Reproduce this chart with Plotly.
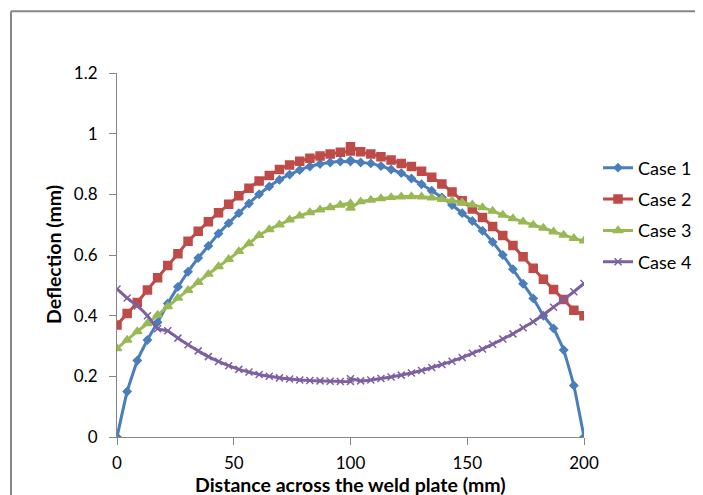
import plotly.graph_objects as go

# Distance across the weld plate (mm); 100 appears twice (two mesh halves)
distance = [0, 4.35, 8.70, 13.04, 17.39, 21.74, 26.09, 30.43, 34.78, 39.13,
            43.48, 47.83, 52.17, 56.52, 60.87, 65.22, 69.57, 73.91, 78.26, 82.61,
            86.96, 91.30, 95.65, 100, 100, 104.35, 108.70, 113.04, 117.39, 121.74,
            126.09, 130.43, 134.78, 139.13, 143.48, 147.83, 152.17, 156.52, 160.87,
            165.22, 169.57, 173.91, 178.26, 182.61, 186.96, 191.30, 195.65, 200]

case1 = [0, 0.15, 0.252, 0.32, 0.378, 0.44, 0.495, 0.545, 0.59, 0.63,
         0.671, 0.705, 0.738, 0.77, 0.80, 0.826, 0.848, 0.865, 0.88, 0.892,
         0.90, 0.905, 0.908, 0.908, 0.912, 0.905, 0.902, 0.893, 0.882, 0.87,
         0.852, 0.833, 0.812, 0.79, 0.765, 0.738, 0.712, 0.68, 0.643,
         0.60, 0.553, 0.505, 0.457, 0.40, 0.358, 0.287, 0.17, 0]

case2 = [0.369, 0.407, 0.443, 0.485, 0.525, 0.565, 0.604, 0.645, 0.678, 0.71,
         0.739, 0.767, 0.795, 0.82, 0.844, 0.862, 0.882, 0.897, 0.909, 0.919,
         0.926, 0.933, 0.939, 0.943, 0.957, 0.94, 0.933, 0.924, 0.913, 0.902,
         0.892, 0.876, 0.856, 0.834, 0.808, 0.779, 0.752, 0.724, 0.694,
         0.664, 0.631, 0.594, 0.556, 0.52, 0.486, 0.453, 0.418, 0.40]

case3 = [0.292, 0.32, 0.348, 0.374, 0.402, 0.43, 0.458, 0.484, 0.51, 0.537,
         0.562, 0.586, 0.612, 0.638, 0.665, 0.684, 0.70, 0.716, 0.729, 0.74,
         0.749, 0.757, 0.765, 0.77, 0.755, 0.776, 0.781, 0.786, 0.79, 0.792,
         0.793, 0.792, 0.789, 0.784, 0.779, 0.773, 0.766, 0.757, 0.745,
         0.732, 0.72, 0.71, 0.699, 0.689, 0.677, 0.666, 0.655, 0.647]

case4 = [0.488, 0.458, 0.432, 0.40, 0.357, 0.35, 0.326, 0.304, 0.284, 0.265,
         0.249, 0.235, 0.223, 0.214, 0.206, 0.20, 0.195, 0.191, 0.188, 0.186,
         0.185, 0.184, 0.183, 0.183, 0.192, 0.185, 0.188, 0.193, 0.198, 0.204,
         0.211, 0.219, 0.229, 0.239, 0.25, 0.262, 0.276, 0.29, 0.306,
         0.323, 0.34, 0.36, 0.38, 0.403, 0.428, 0.453, 0.479, 0.506]

series_names = ["Case 1", "Case 2", "Case 3", "Case 4"]
x_ticks = [0, 50, 100, 150, 200]
y_ticks = [0, 0.2, 0.4, 0.6, 0.8, 1.0, 1.2]
y_tick_labels = ["0", "0.2", "0.4", "0.6", "0.8", "1", "1.2"]

colors = ["#4A7EBB", "#BE4B48", "#98B954", "#7D60A0"]
symbols = ["diamond", "square", "triangle-up", "x-thin"]
msizes = [6, 8, 8, 7]

FONT = "Lato, 'Open Sans', 'DejaVu Sans', sans-serif"

fig = go.Figure()
for i, (name, vals) in enumerate(zip(series_names, [case1, case2, case3, case4])):
    fig.add_trace(go.Scatter(
        x=distance, y=vals, name=name, mode="lines+markers",
        line=dict(color=colors[i], width=3, shape="spline", smoothing=0.3),
        marker=dict(symbol=symbols[i], size=msizes[i], color=colors[i],
                    line=dict(color=colors[i], width=1.5)),
        legendgroup=name,
    ))

axis_common = dict(
    showgrid=False, zeroline=False, showline=True, linecolor="#868686",
    linewidth=1, ticks="outside", ticklen=7, tickcolor="#868686",
    tickfont=dict(family=FONT, size=17, color="#000000"),
)

border = dict(color="#868686", width=2)

# page body adds an 8px offset, so the figure is 8px smaller and margins shifted
fig.update_layout(
    width=695, height=487,
    margin=dict(l=109, r=119, t=65, b=58, autoexpand=False),
    paper_bgcolor="white", plot_bgcolor="white",
    showlegend=True,
    legend=dict(
        x=1.03, y=0.79, xanchor="left", yanchor="top",
        font=dict(family=FONT, size=18, color="#000000"),
        tracegroupgap=5, itemwidth=30, bgcolor="rgba(0,0,0,0)",
    ),
    xaxis=dict(range=[0, 200], tickvals=x_ticks, ticklabelstandoff=4, **axis_common),
    yaxis=dict(range=[0, 1.2], tickvals=y_ticks, ticktext=y_tick_labels,
               ticklabelstandoff=8, **axis_common),
    annotations=[
        dict(text="<b>Deflection (mm)</b>", xref="paper", yref="paper",
             x=-0.137, y=0.5, xanchor="center", yanchor="middle", textangle=-90,
             showarrow=False, font=dict(family=FONT, size=19.5, color="#000000")),
        dict(text="<b>Distance across the weld plate (mm)</b>", xref="paper", yref="paper",
             x=0.5, y=-0.131, xanchor="center", yanchor="middle",
             showarrow=False, font=dict(family=FONT, size=19.5, color="#000000")),
    ],
    shapes=[
        dict(type="line", xref="paper", yref="paper",
             x0=-0.227, x1=1.5, y0=1.1695, y1=1.1695, line=border, layer="below"),
        dict(type="line", xref="paper", yref="paper",
             x0=-0.227, x1=-0.227, y0=-0.3, y1=1.1695, line=border, layer="below"),
    ],
)

fig.write_html("out.html", config={"displayModeBar": False})
